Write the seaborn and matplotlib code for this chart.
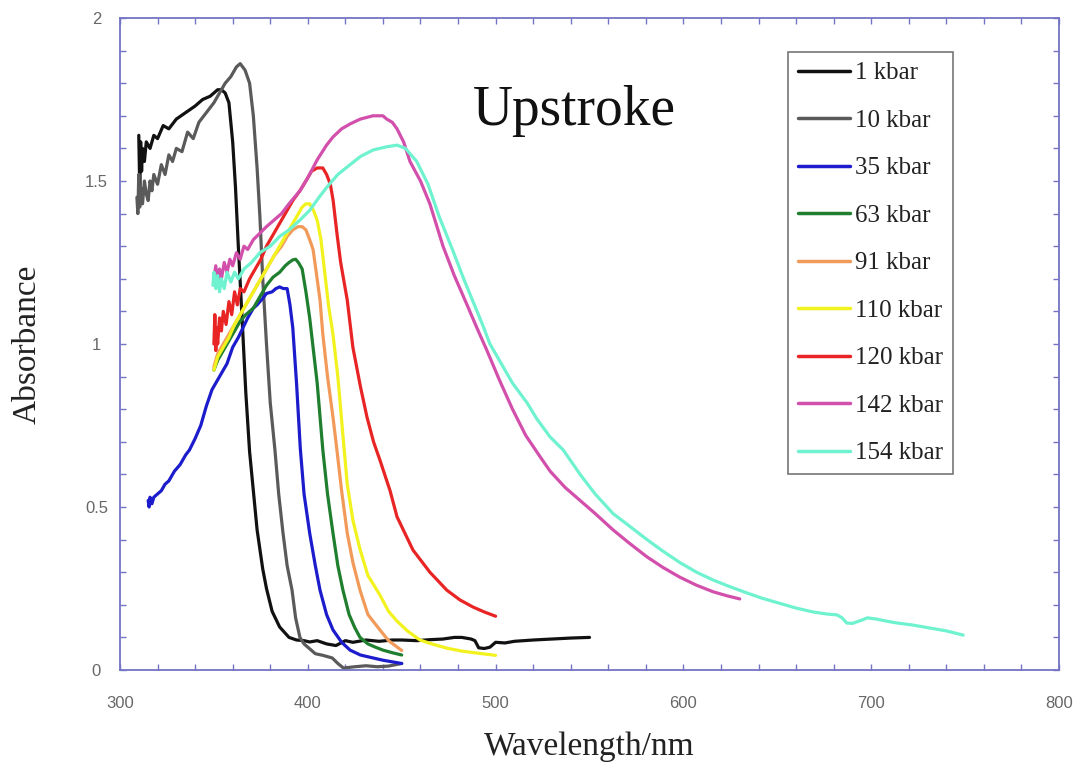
import numpy as np
import pandas as pd
import matplotlib
matplotlib.use("Agg")
import matplotlib.pyplot as plt
import seaborn as sns
from matplotlib.ticker import MultipleLocator, FixedLocator

# ---------------- data ----------------
labels = ["1 kbar", "10 kbar", "35 kbar", "63 kbar", "91 kbar",
          "110 kbar", "120 kbar", "142 kbar", "154 kbar"]
colors = ["#111111", "#5a5a5a", "#1c1ccc", "#1f7f2f", "#f29a5a",
          "#f2f21e", "#e82424", "#d24fac", "#6ff2cf"]

x_1 = [310, 310.5, 311, 311.5, 312, 313, 314, 316, 318, 320, 323, 326, 330, 335, 340, 344, 348, 352, 354,
       356, 358, 360, 361.5, 363, 365, 367, 369, 371, 373, 376, 378, 381, 385, 390, 394, 398, 401, 405,
       410, 415, 420, 424, 431, 438, 445, 450, 458, 465, 472, 478, 482, 487, 489, 491, 494, 497, 500,
       505, 510, 520, 530, 540, 550]
y_1 = [1.64, 1.48, 1.62, 1.53, 1.60, 1.56, 1.62, 1.60, 1.64, 1.63, 1.67, 1.66, 1.69, 1.71, 1.73, 1.75,
       1.76, 1.78, 1.78, 1.77, 1.74, 1.62, 1.48, 1.30, 1.08, 0.85, 0.67, 0.55, 0.43, 0.31, 0.25, 0.18,
       0.132, 0.10, 0.092, 0.09, 0.086, 0.09, 0.08, 0.075, 0.09, 0.085, 0.092, 0.088, 0.092, 0.092,
       0.09, 0.093, 0.095, 0.10, 0.10, 0.095, 0.09, 0.068, 0.066, 0.07, 0.085, 0.083, 0.088, 0.092,
       0.095, 0.098, 0.10]

x_10 = [309, 309.5, 310, 310.5, 311, 312, 313, 314, 315, 316, 317, 318, 320, 322, 324, 326, 328, 330,
        333, 336, 339, 342, 346, 350, 353, 356, 359, 362, 364, 366.6, 369, 371, 373, 374.5, 376, 378,
        380, 382.5, 384.5, 386.8, 389, 391.6, 393.5, 395.8, 398, 401, 404, 408, 413, 416, 419, 425,
        431, 437, 443, 450]
y_10 = [1.45, 1.40, 1.52, 1.42, 1.48, 1.43, 1.50, 1.46, 1.44, 1.50, 1.47, 1.52, 1.49, 1.55, 1.52, 1.58,
        1.56, 1.60, 1.59, 1.65, 1.63, 1.68, 1.71, 1.74, 1.77, 1.80, 1.82, 1.85, 1.86, 1.84, 1.80, 1.70,
        1.54, 1.39, 1.20, 1.00, 0.82, 0.675, 0.54, 0.42, 0.32, 0.245, 0.16, 0.10, 0.08, 0.065, 0.05,
        0.045, 0.037, 0.02, 0.006, 0.01, 0.013, 0.01, 0.012, 0.02]

x_35 = [315, 315.5, 316, 317, 318, 320, 322, 324, 326, 329, 332, 335, 337, 340, 343, 346, 349, 351, 353,
        355, 357, 360, 363, 365.5, 368, 371, 373, 376, 378, 381, 383, 385, 387, 389, 390.5, 392, 394,
        396, 398, 401, 404, 406.5, 410, 413.4, 418, 422.5, 428, 434.7, 440, 445, 450]
y_35 = [0.52, 0.50, 0.53, 0.51, 0.53, 0.54, 0.55, 0.57, 0.58, 0.61, 0.63, 0.66, 0.675, 0.71, 0.75, 0.81,
        0.86, 0.88, 0.90, 0.92, 0.94, 0.99, 1.02, 1.05, 1.08, 1.11, 1.12, 1.14, 1.155, 1.16, 1.17, 1.175,
        1.17, 1.17, 1.12, 1.05, 0.88, 0.68, 0.54, 0.42, 0.32, 0.245, 0.17, 0.123, 0.085, 0.061, 0.046,
        0.037, 0.03, 0.025, 0.02]

x_63 = [350, 352, 355, 358, 361, 364, 367, 371, 374, 378, 381.5, 385, 388, 390, 392, 393.5, 395, 397,
        399, 401, 403, 405, 408, 410.5, 413.4, 416, 418.7, 422, 425, 427.8, 432, 436, 440, 445, 450]
y_63 = [0.92, 0.95, 0.98, 1.01, 1.04, 1.07, 1.09, 1.11, 1.14, 1.18, 1.205, 1.22, 1.24, 1.25, 1.258,
        1.26, 1.25, 1.23, 1.16, 1.08, 0.98, 0.88, 0.675, 0.54, 0.42, 0.32, 0.245, 0.17, 0.13, 0.10,
        0.08, 0.07, 0.061, 0.053, 0.046]

x_91 = [350, 352, 355, 358, 361, 364, 367, 370, 374, 378, 382, 386, 389, 392, 394.8, 397, 399, 401,
        402.8, 404.5, 406.5, 408, 410.5, 413.4, 415.5, 418, 421, 424, 427.8, 432, 438.4, 443, 450]
y_91 = [0.93, 0.97, 1.00, 1.03, 1.06, 1.09, 1.12, 1.15, 1.19, 1.23, 1.27, 1.30, 1.33, 1.35, 1.36, 1.36,
        1.35, 1.32, 1.29, 1.22, 1.135, 1.03, 0.90, 0.776, 0.675, 0.55, 0.42, 0.33, 0.245, 0.17, 0.123,
        0.09, 0.06]

x_110 = [350, 352, 355, 358, 361, 364, 367, 370, 374, 378, 382, 386, 390, 394, 397, 399, 401, 403, 405,
         407, 409, 411, 413.4, 416, 418.7, 421, 424, 427.8, 432, 438.4, 443, 447.5, 453, 459.7, 466,
         474, 482, 490, 500]
y_110 = [0.92, 0.96, 0.99, 1.02, 1.06, 1.09, 1.12, 1.15, 1.19, 1.23, 1.27, 1.31, 1.35, 1.39, 1.42, 1.43,
         1.43, 1.41, 1.38, 1.32, 1.22, 1.12, 1.03, 0.90, 0.72, 0.57, 0.46, 0.37, 0.29, 0.23, 0.18, 0.15,
         0.12, 0.092, 0.08, 0.067, 0.058, 0.052, 0.045]

x_120 = [350, 350.5, 351, 351.5, 352, 353, 354, 355, 356.5, 358, 359.5, 361, 362.5, 364, 366, 369, 372,
         375, 378, 381, 385, 389, 392, 395.8, 399, 402, 405, 408, 410, 412, 413.5, 415.5, 417.5, 421,
         424, 428, 431.5, 435, 438.4, 443.8, 447.5, 456, 465, 474, 481, 488, 494, 500]
y_120 = [1.00, 1.09, 0.98, 1.05, 1.00, 1.08, 1.04, 1.10, 1.06, 1.13, 1.09, 1.16, 1.12, 1.17, 1.16, 1.20,
         1.23, 1.26, 1.30, 1.33, 1.37, 1.41, 1.44, 1.47, 1.50, 1.53, 1.54, 1.54, 1.52, 1.49, 1.44, 1.34,
         1.25, 1.135, 0.99, 0.87, 0.776, 0.70, 0.644, 0.55, 0.47, 0.368, 0.30, 0.245, 0.215, 0.193,
         0.178, 0.165]

x_142 = [350, 351, 352, 353, 354, 355.5, 357, 358.5, 360, 362, 364, 366, 368, 371, 374.5, 378, 382, 386,
         390, 395.8, 400, 405, 410, 413.4, 418, 422.5, 428, 434.7, 440, 442, 445, 447.5, 451, 454.4, 460,
         465, 472, 478, 484.8, 490, 495.4, 502, 509, 516, 523.6, 529, 537, 545, 553, 562.5, 571, 580.6,
         589, 598, 607, 615.8, 623, 630]
y_142 = [1.20, 1.24, 1.19, 1.23, 1.20, 1.25, 1.22, 1.26, 1.24, 1.28, 1.26, 1.30, 1.29, 1.32, 1.34, 1.36,
         1.38, 1.40, 1.43, 1.47, 1.51, 1.565, 1.61, 1.635, 1.66, 1.675, 1.69, 1.70, 1.70, 1.69, 1.68,
         1.66, 1.62, 1.56, 1.50, 1.43, 1.30, 1.21, 1.12, 1.05, 0.98, 0.89, 0.80, 0.72, 0.655, 0.61, 0.56,
         0.52, 0.48, 0.43, 0.39, 0.347, 0.315, 0.285, 0.26, 0.24, 0.228, 0.218]

x_154 = [349.5, 350, 351, 352, 353, 354, 355.5, 357, 359, 361, 363, 366, 370, 374.5, 380, 385, 390,
         395.8, 401, 406, 410, 416, 422.5, 428, 434.7, 442, 447.5, 452, 458, 464, 470, 477, 483, 488,
         493, 497, 502, 509, 516.7, 522, 529, 536, 545, 553, 562.5, 571.6, 580.6, 589, 598, 607, 615.8,
         625, 634, 642, 651, 660, 669, 676, 681.8, 684.5, 687, 690, 692, 695, 698, 703, 708, 714, 722,
         731, 740, 749]
y_154 = [1.18, 1.22, 1.17, 1.21, 1.16, 1.20, 1.17, 1.22, 1.19, 1.22, 1.20, 1.23, 1.25, 1.28, 1.30, 1.33,
         1.35, 1.38, 1.41, 1.45, 1.48, 1.52, 1.55, 1.575, 1.595, 1.605, 1.61, 1.60, 1.56, 1.49, 1.39,
         1.29, 1.20, 1.13, 1.06, 1.00, 0.95, 0.88, 0.82, 0.77, 0.715, 0.675, 0.60, 0.54, 0.48, 0.44,
         0.40, 0.365, 0.33, 0.30, 0.276, 0.255, 0.236, 0.22, 0.205, 0.19, 0.178, 0.172, 0.169, 0.16,
         0.144, 0.143, 0.147, 0.153, 0.16, 0.156, 0.15, 0.144, 0.138, 0.129, 0.12, 0.107]

series_x = [x_1, x_10, x_35, x_63, x_91, x_110, x_120, x_142, x_154]
series_y = [y_1, y_10, y_35, y_63, y_91, y_110, y_120, y_142, y_154]

x_ticks = [300, 400, 500, 600, 700, 800]
y_ticks = [0, 0.5, 1, 1.5, 2]
y_tick_labels = ["0", "0.5", "1", "1.5", "2"]

# ---------------- build long table ----------------
rows = []
for lab, xs, ys in zip(labels, series_x, series_y):
    for i, (xv, yv) in enumerate(zip(xs, ys)):
        rows.append((lab, i, xv, yv))
df = pd.DataFrame(rows, columns=["pressure", "idx", "wavelength", "absorbance"])

# ---------------- style ----------------
sns.set_theme(style="white")
plt.rcParams["font.family"] = ["Liberation Serif", "DejaVu Serif"]
frame_col = "#7474c4"

fig = plt.figure(figsize=(10.78, 7.72), dpi=100)
ax = fig.add_axes([120 / 1078, 1 - 670 / 772, 939 / 1078, 652 / 772])

sns.lineplot(data=df, x="wavelength", y="absorbance", hue="pressure",
             hue_order=labels, palette=dict(zip(labels, colors)),
             estimator=None, sort=False, units="pressure", linewidth=2.3, ax=ax)

ax.set_xlim(300, 800)
ax.set_ylim(0, 2)
ax.xaxis.set_major_locator(FixedLocator(x_ticks))
ax.xaxis.set_minor_locator(MultipleLocator(20))
ax.yaxis.set_major_locator(FixedLocator(y_ticks))
ax.yaxis.set_minor_locator(MultipleLocator(0.1))
ax.set_yticklabels(y_tick_labels)

ax.tick_params(which="both", direction="in", top=True, right=True, bottom=True, left=True,
               color=frame_col, length=4, width=1)
ax.tick_params(axis="x", which="major", pad=19, labelsize=12, labelcolor="#686868")
ax.tick_params(axis="y", which="major", pad=17, labelsize=12, labelcolor="#686868")
for t in ax.get_xticklabels() + ax.get_yticklabels():
    t.set_fontfamily(["Liberation Sans", "DejaVu Sans"])
for t in ax.get_yticklabels():
    t.set_horizontalalignment("center")

for s in ax.spines.values():
    s.set_color(frame_col)
    s.set_linewidth(1.3)

ax.set_xlabel("Wavelength/nm", fontsize=24, color="#222222")
ax.set_ylabel("Absorbance", fontsize=24, color="#222222")
ax.xaxis.set_label_coords(0.5, -0.095)
ax.yaxis.set_label_coords(-0.082, 0.5)

ax.text(488, 1.672, "Upstroke", fontsize=40, color="#111111", va="baseline", ha="left")

handles, labs = ax.get_legend_handles_labels()
leg = ax.legend(handles, labs, loc="upper left", bbox_to_anchor=(0.711, 0.948),
                borderaxespad=0, frameon=True, fancybox=False, framealpha=1,
                edgecolor="#777777", fontsize=18, handlelength=2.1, handletextpad=0.2,
                labelspacing=1.0, borderpad=0.4)
leg.get_frame().set_linewidth(1.2)
for t in leg.get_texts():
    t.set_color("#222222")
for l in leg.get_lines():
    l.set_linewidth(2.5)

fig.savefig("out.png", dpi=100, facecolor="white")
